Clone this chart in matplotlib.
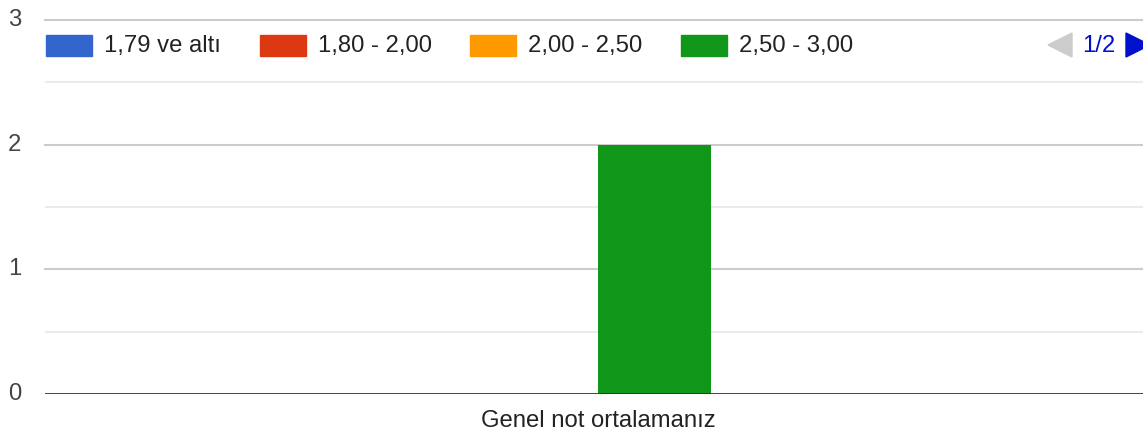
import matplotlib.pyplot as plt
from matplotlib.patches import Rectangle, Polygon

plt.rcParams['font.family'] = ['Liberation Sans', 'DejaVu Sans']

categories = ["Genel not ortalamanız"]
series_names = ["1,79 ve altı", "1,80 - 2,00", "2,00 - 2,50", "2,50 - 3,00",
                "3,00 - 3,50", "3,50 - 4,00"]
series_values = [[0], [0], [0], [2], [0], [0]]
series_colors = ["#3366cc", "#dc3912", "#ff9900", "#109618", "#990099", "#0099c6"]
legend_page = "1/2"
visible_legend = 4

W, H = 1143, 432
FS = 17.2
fig = plt.figure(figsize=(W / 100, H / 100), dpi=100)
# chart area runs slightly past the right edge of the image
ax = fig.add_axes([45 / W, 1 - 394 / H, (1150 - 45) / W, (394 - 20) / H])


def fx(px):
    return px / W


def fy(py):
    return 1 - py / H


# grouped columns, group takes 61.8% of the category slot
n = len(series_names)
group = 0.618
bw = group / n
for i, (vals, col) in enumerate(zip(series_values, series_colors)):
    xs = [c + (i - (n - 1) / 2) * bw for c in range(len(categories))]
    ax.bar(xs, vals, width=bw, color=col, zorder=3)

ax.set_xlim(-0.5, len(categories) - 0.5)
ax.set_ylim(0, 3)

for y in [0.5, 1.5, 2.5]:
    ax.axhline(y, color="#ebebeb", lw=1.5, zorder=1)
for y in [1, 2, 3]:
    ax.axhline(y, color="#cccccc", lw=1.5, zorder=1, clip_on=False)
ax.axhline(0, color="#333333", lw=2.0, zorder=4)

for s in ax.spines.values():
    s.set_visible(False)
ax.set_xticks([])
ax.set_yticks([])

# y tick labels
for v in [0, 1, 2, 3]:
    yp = 394 - v * (394 - 20) / 3
    fig.text(fx(21), fy(yp), str(v), ha="right", va="center",
             fontsize=FS, color="#444444")

# category label
fig.text(fx(598), fy(421), categories[0], ha="center", va="center",
         fontsize=FS, color="#222222")

# legend (first page)
patch_x = [46, 260, 470, 681]
for i in range(visible_legend):
    fig.patches.append(Rectangle((fx(patch_x[i]), fy(56)), fx(46), 21 / H,
                                 transform=fig.transFigure,
                                 color=series_colors[i]))
    fig.text(fx(patch_x[i] + 58), fy(46), series_names[i], ha="left",
             va="center", fontsize=FS, color="#222222")

# legend pager
fig.patches.append(Polygon([(fx(1048), fy(45)), (fx(1072), fy(33)), (fx(1072), fy(57))],
                           closed=True, transform=fig.transFigure, color="#cccccc"))
fig.text(fx(1099), fy(46), legend_page, ha="center", va="center",
         fontsize=FS, color="#0011cc")
fig.patches.append(Polygon([(fx(1126), fy(33)), (fx(1150), fy(45)), (fx(1126), fy(57))],
                           closed=True, transform=fig.transFigure, color="#0011cc"))

fig.savefig("out.png", dpi=100)
